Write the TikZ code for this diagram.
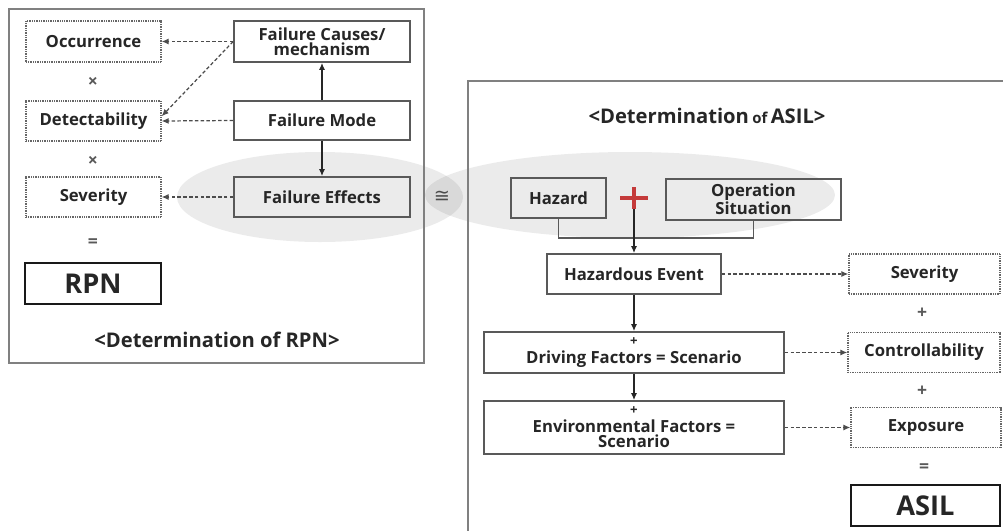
\documentclass[tikz,border=0pt]{standalone}
\usepackage{fontspec}
\setmainfont{Open Sans}
\newfontfamily\symfont{DejaVu Sans}
\usetikzlibrary{arrows.meta}
\definecolor{plusred}{RGB}{196,58,58}

\begin{document}
\begin{tikzpicture}[x=0.02cm, y=-0.02cm,
  font=\bfseries\fontsize{9.5}{8.6}\selectfont, text=black!85,
  solidbox/.style={draw=black!65, line width=1pt, inner sep=0pt, align=center},
  dotbox/.style={draw=black!60, line width=0.8pt, dash pattern=on 0.5pt off 0.5pt, inner sep=0pt, align=center},
  resultbox/.style={draw=black!90, line width=1.6pt, inner sep=0pt, font=\bfseries\fontsize{15.5}{16}\selectfont},
  flow/.style={-{Latex[length=4pt,width=3.5pt]}, line width=1pt, draw=black!85},
  link/.style={-{Latex[length=4pt,width=3.5pt]}, line width=0.7pt, draw=black!70, dash pattern=on 2pt off 1.3pt},
  op/.style={font=\bfseries\fontsize{10}{10}\selectfont, text=black!65},
  panel/.style={draw=black!50, line width=1.2pt},
  zone/.style={fill=black, fill opacity=0.08},
  title/.style={font=\bfseries\fontsize{11.5}{12}\selectfont}
]
\useasboundingbox (0,0) rectangle (1003,531);

% shaded zones behind the two linked rows
\fill[zone] (320,197) ellipse [x radius=143, y radius=45];
\fill[zone] (630,195) ellipse [x radius=205, y radius=43];

% panels
\draw[panel] (9,9) rectangle (424,363);
\draw[panel] (1003,81) -- (468,81) -- (468,531);

% ---- RPN side ----
\node[dotbox, minimum width=2.70cm, minimum height=0.82cm] (occ) at (93.5,41.5) {Occurrence};
\node[op] (x1) at (93,82) {×};
\node[dotbox, minimum width=2.70cm, minimum height=0.80cm] (det) at (93.5,121) {Detectability};
\node[op] (x2) at (93,161) {×};
\node[dotbox, minimum width=2.70cm, minimum height=0.80cm] (sevL) at (93.5,197) {Severity};
\node[op] (eq1) at (93,243) {=};
\node[resultbox, minimum width=2.72cm, minimum height=0.82cm] (rpn) at (93,283.5) {RPN};

\node[solidbox, minimum width=3.52cm, minimum height=0.82cm] (cause) at (322,41.5) {Failure Causes/\\mechanism};
\node[solidbox, minimum width=3.52cm, minimum height=0.78cm] (mode) at (322,120.5) {Failure Mode};
\node[solidbox, minimum width=3.52cm, minimum height=0.80cm] (eff) at (322,197) {Failure Effects};

\node[title] (trpn) at (217,340) {<Determination of RPN>};

\draw[flow] (mode.north) -- (cause.south);
\draw[flow] (mode.south) -- (eff.north);
\draw[link] (cause.west) -- (occ.east);
\draw[link] (cause.west) -- (det.4);
\draw[link] (mode.west) -- (det.east);
\draw[link] (eff.west) -- (sevL.east);

% congruence sign between the panels
\node[font=\symfont\fontsize{11}{12}\selectfont, text=black!70] (cong) at (442,197) {≅};

% ---- ASIL side ----
\node[title] (tasil) at (707,116) {<Determination\,{\fontsize{8.5}{9}\selectfont of}\,ASIL>};

\node[solidbox, minimum width=1.90cm, minimum height=0.80cm] (haz) at (558.5,198) {Hazard};
\node[solidbox, minimum width=3.50cm, minimum height=0.82cm] (ops) at (753.5,199.5) {Operation\\Situation};
\coordinate (brk) at (0,238);
\draw[draw=black!65, line width=1pt] (haz.south) -- (haz.south |- brk) -| (ops.south);

\coordinate (plusc) at (634,198);
\node[solidbox, minimum width=3.48cm, minimum height=0.80cm] (he) at (634,274) {Hazardous Event};
\draw[flow] (plusc) -- (he.north);
\draw[plusred, line width=2.3pt] (620,198) -- (648,198) (634,187) -- (634,209);

\node[solidbox, minimum width=6.00cm, minimum height=0.82cm] (drv) at (634,352.5)
  {{\fontsize{7.5}{7}\selectfont +}\\[1.5pt]Driving Factors = Scenario};
\node[solidbox, minimum width=6.00cm, minimum height=1.06cm] (env) at (634,427.5)
  {{\fontsize{7.5}{7}\selectfont +}\\[1.5pt]Environmental Factors =\\Scenario};

\node[dotbox, minimum width=3.02cm, minimum height=0.80cm] (sevR) at (924.5,274) {Severity};
\node[op] (p1) at (922,313) {+};
\node[dotbox, minimum width=3.04cm, minimum height=0.80cm] (ctl) at (924,352.5) {Controllability};
\node[op] (p2) at (922,391) {+};
\node[dotbox, minimum width=3.00cm, minimum height=0.80cm] (exp) at (926,427.5) {Exposure};
\node[op] (eq2) at (924,468) {=};
\node[resultbox, minimum width=2.98cm, minimum height=0.82cm] (asil) at (925.5,505.5) {ASIL};

\draw[flow] (he.south) -- (drv.north);
\draw[flow] (drv.south) -- (env.north);
\draw[link] (he.east) -- (sevR.west);
\draw[link] (drv.east) -- (ctl.west);
\draw[link] (env.east) -- (exp.west);
\end{tikzpicture}
\end{document}
